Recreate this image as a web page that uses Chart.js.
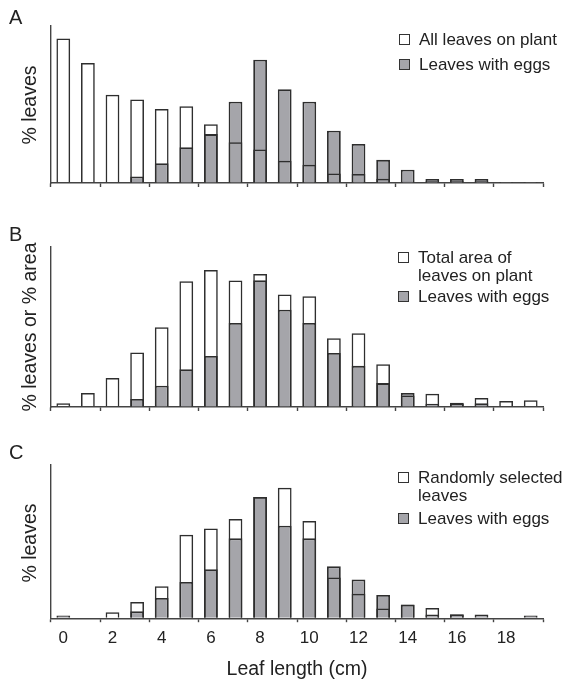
<!DOCTYPE html>
<html>
<head>
<meta charset="utf-8">
<script src="https://cdn.jsdelivr.net/npm/chart.js@4.4.0/dist/chart.umd.min.js"></script>
<style>
  html, body { margin: 0; padding: 0; background: #fff; overflow: hidden; }
  #wrap { position: relative; width: 568px; height: 679px; overflow: hidden; font-family: "Liberation Sans", Arial, sans-serif; color: #222; }
  canvas { position: absolute; left: 0; }
  .letter { position: absolute; left: 9px; font-size: 20px; line-height: 20px; }
  .ytitle { position: absolute; left: 29px; font-size: 19.5px; white-space: nowrap; transform: translate(-50%, -50%) rotate(-90deg); }
  .legend { position: absolute; font-size: 17px; line-height: 18px; }
  .legend .item { position: relative; padding-left: 20px; }
  .legend .box { position: absolute; left: 0; top: 3px; width: 9px; height: 9px; border: 1.3px solid #333; }
</style>
</head>
<body>
<div id="wrap">
  <canvas id="chartA" width="568" height="215" style="top:0px"></canvas>
  <canvas id="chartB" width="568" height="220" style="top:215px"></canvas>
  <canvas id="chartC" width="568" height="250" style="top:435px"></canvas>

  <div class="letter" style="top:7px">A</div>
  <div class="letter" style="top:224px">B</div>
  <div class="letter" style="top:442px">C</div>

  <div class="ytitle" style="top:105px">% leaves</div>
  <div class="ytitle" style="top:327px">% leaves or % area</div>
  <div class="ytitle" style="top:543px">% leaves</div>

  <div class="legend" style="left:399px; top:31px">
    <div class="item"><span class="box" style="background:#fff"></span>All leaves on plant</div>
    <div class="item" style="margin-top:7px"><span class="box" style="background:#a5a5aa"></span>Leaves with eggs</div>
  </div>
  <div class="legend" style="left:398px; top:249px">
    <div class="item"><span class="box" style="background:#fff"></span>Total area of<br>leaves on plant</div>
    <div class="item" style="margin-top:3px"><span class="box" style="background:#a5a5aa"></span>Leaves with eggs</div>
  </div>
  <div class="legend" style="left:398px; top:469px">
    <div class="item"><span class="box" style="background:#fff"></span>Randomly selected<br>leaves</div>
    <div class="item" style="margin-top:5px"><span class="box" style="background:#a5a5aa"></span>Leaves with eggs</div>
  </div>
</div>

<script>
// leaf length classes (cm)
const lengths = ['0','1','2','3','4','5','6','7','8','9','10','11','12','13','14','15','16','17','18','19'];

// panel A - all leaves on plant vs leaves with eggs (relative heights)
const allLeavesA = [437, 363, 267, 253, 224, 232, 178, 123, 101, 67, 55, 29, 27, 13, 4, 5, 5, 5, 2, 2];
const eggsA      = [0, 0, 0, 20, 60, 108, 148, 246, 373, 284, 246, 158, 118, 70, 40, 12, 12, 12, 3, 3];

// panel B - total leaf area vs leaves with eggs
const areaB  = [11, 42, 87, 164, 240, 379, 413, 381, 401, 339, 334, 207, 222, 129, 35, 40, 10, 27, 18, 20];
const eggsB  = [0, 0, 0, 24, 64, 114, 154, 253, 382, 293, 253, 163, 124, 72, 42, 10, 13, 11, 0, 0];

// panel C - randomly selected leaves vs leaves with eggs
const randomC = [0, 0, 18, 50, 98, 256, 275, 304, 372, 400, 298, 125, 75, 30, 41, 31, 11, 0, 0, 0];
const eggsC   = [8, 0, 0, 21, 62, 111, 150, 245, 372, 284, 245, 159, 119, 71, 42, 11, 12, 11, 0, 8];

const grey = '#a5a5aa';
const edge = '#2e2e2e';
const axisCol = '#444444';
const font = '"Liberation Sans", Arial, sans-serif';

function makeChart(id, whiteVals, greyVals, yMax, pad, showLabels) {
    let ctx = document.getElementById(id);
    return new Chart(ctx, {
        type: 'bar',
        data: {
            labels: lengths,
            datasets: [{
                data: whiteVals,
                backgroundColor: 'rgba(255,255,255,0)',
                borderColor: edge,
                borderWidth: 1.5,
                order: 0
            }, {
                data: greyVals,
                backgroundColor: grey,
                borderColor: edge,
                borderWidth: 1.8,
                order: 1
            }]
        },
        options: {
            responsive: false,
            animation: false,
            devicePixelRatio: 1,
            layout: { padding: pad },
            datasets: {
                bar: { grouped: false, categoryPercentage: 1, barPercentage: 0.56 }
            },
            plugins: {
                legend: { display: false },
                tooltip: { enabled: false }
            },
            scales: {
                x: {
                    type: 'category',
                    offset: true,
                    grid: {
                        offset: true,
                        drawOnChartArea: false,
                        drawTicks: true,
                        tickLength: 4,
                        tickWidth: 1.4,
                        tickColor: c => (c.type !== 'tick' || c.index % 2 === 0) ? axisCol : 'rgba(0,0,0,0)'
                    },
                    border: { display: true, color: axisCol, width: 1.4 },
                    ticks: {
                        display: showLabels,
                        autoSkip: false,
                        maxRotation: 0,
                        padding: 6,
                        color: '#222',
                        font: { family: font, size: 17 },
                        callback: (v, i) => i % 2 === 0 ? lengths[i] : ''
                    },
                    title: {
                        display: showLabels,
                        text: 'Leaf length (cm)',
                        color: '#222',
                        font: { family: font, size: 19.5 },
                        padding: { top: 3, bottom: 0 }
                    }
                },
                y: {
                    min: 0,
                    max: yMax,
                    grid: { display: true, drawOnChartArea: false, drawTicks: false },
                    border: { display: true, color: axisCol, width: 1.4 },
                    ticks: { display: false }
                }
            }
        }
    });
}

makeChart('chartA', allLeavesA, eggsA, 475, { left: 51, right: 25, top: 26, bottom: 28 }, false);
makeChart('chartB', areaB, eggsB, 482, { left: 51, right: 25, top: 32, bottom: 24 }, false);
makeChart('chartC', randomC, eggsC, 470, { left: 51, right: 25, top: 30, bottom: 4 }, true);
</script>
</body>
</html>
